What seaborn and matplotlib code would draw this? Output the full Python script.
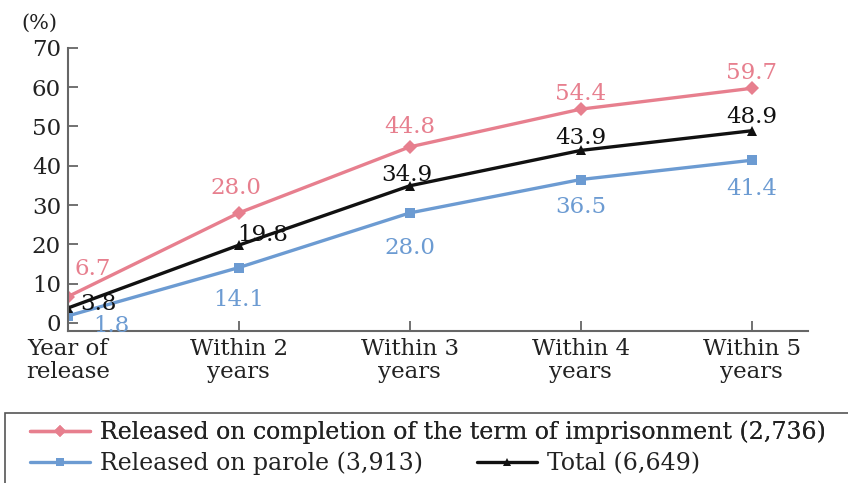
import matplotlib
matplotlib.use("Agg")
import matplotlib.pyplot as plt
import seaborn as sns
import pandas as pd
from matplotlib.lines import Line2D
from matplotlib.patches import Rectangle

categories = ["Year of\nrelease", "Within 2\nyears", "Within 3\nyears", "Within 4\nyears", "Within 5\nyears"]
completion = [6.7, 28.0, 44.8, 54.4, 59.7]
parole = [1.8, 14.1, 28.0, 36.5, 41.4]
total = [3.8, 19.8, 34.9, 43.9, 48.9]
series_names = ["Released on completion of the term of imprisonment (2,736)",
                "Released on parole (3,913)", "Total (6,649)"]
yticks = [0, 10, 20, 30, 40, 50, 60, 70]

sns.set_theme(style="white")
plt.rcParams['font.family'] = ['DejaVu Serif']

colors = ["#E77F8E", "#6C9BD2", "#111111"]
markers = ["D", "s", "^"]

rows = []
for name, vals in zip(series_names, [completion, parole, total]):
    for i, v in enumerate(vals):
        rows.append({"x": i, "y": v, "series": name})
df = pd.DataFrame(rows)

fig = plt.figure(figsize=(8.48, 4.83), dpi=100)
ax = fig.add_axes([0.080, 0.315, 0.873, 0.586])

sns.lineplot(data=df, x="x", y="y", hue="series", style="series",
             palette=dict(zip(series_names, colors)),
             markers=dict(zip(series_names, markers)),
             dashes=False, linewidth=2.4, markersize=7, markeredgewidth=0,
             legend=False, ax=ax)

ax.set_xlim(0, 4.33)
ax.set_ylim(-2, 70)
ax.set_yticks(yticks)
ax.set_xticks(range(len(categories)))
ax.set_xticklabels(categories, fontsize=16.5, color="#222222", linespacing=1.1)
ax.tick_params(axis="y", labelsize=16.5, labelcolor="#222222", direction="in",
               length=7, width=1.3, color="#666666", left=True, pad=5)
ax.tick_params(axis="x", direction="in", length=7, width=1.3, color="#666666",
               bottom=True, pad=5)
ax.set_xlabel("")
ax.set_ylabel("")
for s in ["top", "right"]:
    ax.spines[s].set_visible(False)
for s in ["left", "bottom"]:
    ax.spines[s].set_color("#666666")
    ax.spines[s].set_linewidth(1.5)
ax.spines["left"].set_bounds(-2, 70)

fig.text(0.047, 0.952, "(%)", fontsize=15, ha="center", va="center", color="#222222")

# data labels (offsets in points)
offs_c = [(18, 20), (-2, 18), (0, 14), (0, 11), (0, 11)]
offs_t = [(22, 3), (17, 7), (-2, 8), (0, 9), (0, 10)]
offs_p = [(31, -7), (0, -23), (0, -25), (0, -20), (0, -21)]
for vals, offs, col in [(completion, offs_c, colors[0]), (total, offs_t, colors[2]), (parole, offs_p, colors[1])]:
    for i, (v, o) in enumerate(zip(vals, offs)):
        ax.annotate(f"{v:.1f}", (i, v), xytext=o, textcoords="offset points",
                    ha="center", va="center", fontsize=16.5, color=col)

# legend box
fig.patches.append(Rectangle((0.006, -0.05), 1.2, 0.195, transform=fig.transFigure,
                             fill=False, edgecolor="#555555", linewidth=1.2))
h = [Line2D([], [], color=c, marker=m, linewidth=2.4, markersize=6, markeredgewidth=0)
     for c, m in zip(colors, markers)]
leg_kw = dict(frameon=False, fontsize=17, handlelength=2.55, handletextpad=0.42,
              borderaxespad=0, borderpad=0)
leg1 = fig.legend([h[0]], [series_names[0]], loc="center left",
                  bbox_to_anchor=(0.035, 0.105), **leg_kw)
for t in leg1.get_texts():
    t.set_color("#222222")
leg2 = fig.legend([h[1], h[2]], series_names[1:], loc="center left",
                  bbox_to_anchor=(0.035, 0.041), ncol=2, columnspacing=2.3, **leg_kw)
for t in leg2.get_texts():
    t.set_color("#222222")
fig.add_artist(leg1)

fig.savefig("out.png", dpi=100)
